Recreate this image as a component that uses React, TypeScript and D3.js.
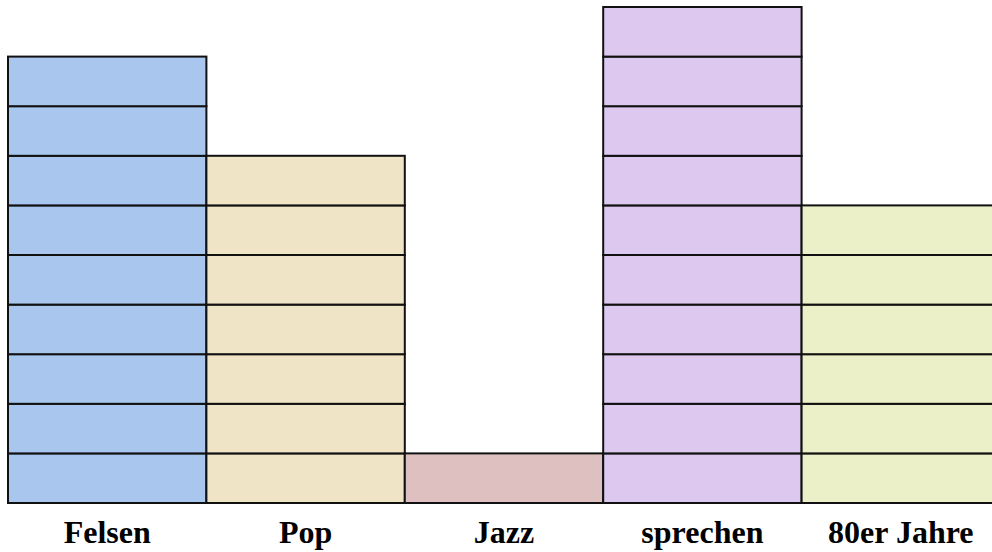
import React from "react";
import * as d3 from "d3";

const categories = ["Felsen", "Pop", "Jazz", "sprechen", "80er Jahre"];
const counts = [9, 7, 1, 10, 6];
const colors = ["#a9c6ef", "#f0e4c6", "#dfc0c0", "#ddc8f0", "#ebf0c8"];

export default function App() {
  const W = 992, H = 552;
  const x = d3.scaleBand<string>().domain(categories).range([8, 1000]).padding(0);
  const y = d3.scaleLinear().domain([0, 10]).range([503, 7]);
  return (
    <svg width={W} height={H} style={{ position: "absolute", left: 0, top: 0, display: "block" }}>
      {categories.map((c, i) => (
        <g key={c}>
          {d3.range(counts[i]).map((k) => (
            <rect
              key={k}
              x={x(c)!}
              y={y(k + 1)}
              width={x.bandwidth()}
              height={y(k) - y(k + 1)}
              fill={colors[i]}
              stroke="#111"
              strokeWidth={2}
            />
          ))}
          <text
            x={x(c)! + x.bandwidth() / 2}
            y={543}
            textAnchor="middle"
            fontFamily="'Liberation Serif', 'Times New Roman', serif"
            fontWeight="bold"
            fontSize={32}
            fill="#000"
          >
            {c}
          </text>
        </g>
      ))}
    </svg>
  );
}
